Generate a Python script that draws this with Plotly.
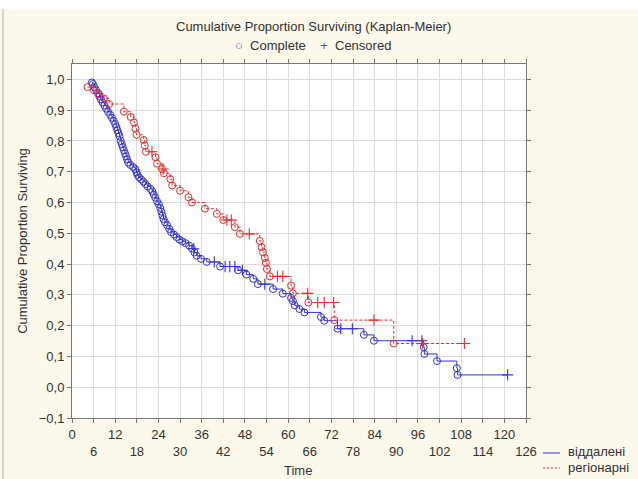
import plotly.graph_objects as go

# ---------------- data ----------------
# віддалені (blue): complete (event) times and survival values
blue_event_t = [5.5, 5.8, 6.2, 6.7, 7.2, 7.6, 8.0, 8.5, 9.0, 9.5, 10.0, 10.6, 11.1, 11.6,
                12.0, 12.3, 12.6, 12.9, 13.2, 13.5, 13.8, 14.1, 14.4, 14.7, 15.0, 15.3,
                15.6, 16.2, 17.0, 17.6, 17.9, 18.2, 18.6, 19.2, 19.8, 20.4, 21.0, 21.8,
                22.3, 22.7, 23.1, 23.6, 24.1, 24.5, 24.8, 25.1, 25.4, 25.8, 26.4, 27.0,
                27.5, 28.3, 29.0, 29.8, 30.6, 31.5, 32.5, 33.3, 34.0, 34.6, 35.8, 37.4,
                41.1, 46.1, 48.4, 50.3, 51.6, 55.8, 58.5, 60.8, 61.3, 61.8, 63.1, 64.5,
                69.1, 70.0, 73.7, 81.0, 83.8, 97.6, 97.8, 101.3, 106.8, 107.0]
blue_event_s = [0.990, 0.985, 0.975, 0.965, 0.955, 0.945, 0.935, 0.925, 0.915, 0.905, 0.895,
                0.885, 0.875, 0.865, 0.855, 0.845, 0.835, 0.825, 0.815, 0.800, 0.790, 0.780,
                0.770, 0.760, 0.750, 0.740, 0.730, 0.722, 0.715, 0.708, 0.698, 0.690, 0.682,
                0.675, 0.668, 0.660, 0.652, 0.644, 0.636, 0.626, 0.616, 0.604, 0.594, 0.582,
                0.570, 0.558, 0.546, 0.536, 0.526, 0.514, 0.504, 0.496, 0.488, 0.480, 0.474,
                0.468, 0.460, 0.450, 0.438, 0.427, 0.417, 0.407, 0.392, 0.380, 0.366, 0.352,
                0.335, 0.319, 0.304, 0.290, 0.280, 0.266, 0.254, 0.243, 0.228, 0.216, 0.190,
                0.170, 0.151, 0.130, 0.108, 0.085, 0.062, 0.040]
blue_cens_t = [33.8, 39.5, 42.5, 43.8, 45.2, 47.3, 53.5, 74.6, 77.8, 94.4, 97.1, 120.9]

# регіонарні (red)
red_event_t = [4.3, 6.1, 7.5, 8.9, 10.3, 14.4, 16.3, 17.2, 17.6, 17.9, 19.9, 20.2, 20.5,
               23.2, 23.6, 25.0, 25.5, 27.3, 27.8, 30.0, 32.3, 33.3, 36.9, 40.2, 42.0,
               45.2, 46.6, 52.1, 52.6, 53.0, 53.5, 53.8, 54.1, 54.9, 60.8, 61.3, 65.6,
               72.8, 89.3]
red_event_s = [0.975, 0.965, 0.952, 0.938, 0.920, 0.895, 0.878, 0.860, 0.840, 0.820, 0.803,
               0.785, 0.765, 0.747, 0.726, 0.709, 0.695, 0.676, 0.655, 0.638, 0.617, 0.600,
               0.580, 0.563, 0.543, 0.520, 0.498, 0.475, 0.455, 0.438, 0.420, 0.404, 0.384,
               0.360, 0.330, 0.305, 0.275, 0.218, 0.142]
red_cens_t = [22.2, 25.3, 43.0, 44.2, 49.2, 57.0, 58.5, 65.4, 68.2, 70.0, 72.6, 83.8, 97.3, 108.9]

x_ticks = list(range(0, 127, 6))
y_ticks = [round(-0.1 + 0.1 * i, 1) for i in range(12)]

series_names = ["віддалені", "регіонарні"]
title_text = "Cumulative Proportion Surviving (Kaplan-Meier)"
x_title = "Time"
y_title = "Cumulative Proportion Surviving"

BLUE = "#3434d6"
RED = "#ee2a2a"
FONT = "Arial, Liberation Sans, sans-serif"
TXT = "#333333"


def km_series(ev_t, ev_s, cen_t):
    """Return step-line points and censored y-values from the KM data."""
    def s_at(t):
        val = 1.0
        for et, es in zip(ev_t, ev_s):
            if et <= t:
                val = es
        return val
    cen_s = [s_at(t) for t in cen_t]
    pts = sorted([(t, s) for t, s in zip(ev_t, ev_s)] + list(zip(cen_t, cen_s)))
    return [p[0] for p in pts], [p[1] for p in pts], cen_s


fig = go.Figure()

for ev_t, ev_s, cen_t, color, dash, name in [
    (blue_event_t, blue_event_s, blue_cens_t, BLUE, "solid", series_names[0]),
    (red_event_t, red_event_s, red_cens_t, RED, "3px,2px", series_names[1]),
]:
    lx, ly, cs = km_series(ev_t, ev_s, cen_t)
    fig.add_trace(go.Scatter(x=lx, y=ly, mode="lines", line=dict(color=color, width=1, dash=dash, shape="hv"),
                             name=name, showlegend=False, hoverinfo="skip"))
    fig.add_trace(go.Scatter(x=ev_t, y=ev_s, mode="markers",
                             marker=dict(symbol="circle-open", size=7, color=color, line=dict(width=1, color=color)),
                             showlegend=False))
    fig.add_trace(go.Scatter(x=cen_t, y=cs, mode="markers",
                             marker=dict(symbol="cross-thin-open", size=8, color=color, line=dict(width=1.1, color=color)),
                             showlegend=False))

ticktext = [str(v) if i % 2 == 0 else "<br>" + str(v) for i, v in enumerate(x_ticks)]

axis_common = dict(showline=True, linecolor="#777777", linewidth=1, mirror="allticks",
                   ticks="outside", ticklen=4, tickcolor="#777777", automargin=False,
                   showgrid=True, gridcolor="#dcdcdc", gridwidth=1, zeroline=False,
                   tickfont=dict(family=FONT, size=13, color=TXT))

fig.update_xaxes(range=[0, 126], tickmode="array", tickvals=x_ticks, ticktext=ticktext, tickangle=0,
                 **axis_common)
fig.update_yaxes(range=[-0.1, 1.05], tickmode="array", tickvals=y_ticks, tickformat=".1f",
                 title=dict(text=y_title, font=dict(family=FONT, size=13, color=TXT), standoff=8),
                 **axis_common)

PL, PR, PT, PB = 72, 112, 64, 61
W, H = 638, 479
pw, ph = W - PL - PR, H - PT - PB


def px2x(px):
    return (px - PL) / pw


def py2y(py):
    return (H - PB - py) / ph


annotations = [
    dict(text=title_text, x=px2x(313), y=py2y(26), xref="paper", yref="paper",
         showarrow=False, font=dict(family=FONT, size=13, color=TXT), xanchor="center", yanchor="middle"),
    dict(text='<span style="color:#5050c8">○</span>  Complete    <span style="color:#5050c8">+</span>  Censored',
         x=px2x(313), y=py2y(45), xref="paper", yref="paper",
         showarrow=False, font=dict(family=FONT, size=13, color=TXT), xanchor="center", yanchor="middle"),
    dict(text=x_title, x=px2x(298), y=py2y(470), xref="paper", yref="paper",
         showarrow=False, font=dict(family=FONT, size=13, color=TXT), xanchor="center", yanchor="middle"),
    dict(text=series_names[0], x=px2x(566), y=py2y(452), xref="paper", yref="paper", showarrow=False,
         xanchor="left", yanchor="middle", font=dict(family=FONT, size=13, color=TXT)),
    dict(text=series_names[1], x=px2x(566), y=py2y(467), xref="paper", yref="paper", showarrow=False,
         xanchor="left", yanchor="middle", font=dict(family=FONT, size=13, color=TXT)),
]

shapes = [
    dict(type="line", xref="paper", yref="paper", x0=px2x(543), x1=px2x(560), y0=py2y(453), y1=py2y(453),
         line=dict(color=BLUE, width=1)),
    dict(type="line", xref="paper", yref="paper", x0=px2x(543), x1=px2x(560), y0=py2y(468), y1=py2y(468),
         line=dict(color=RED, width=1, dash="2px,2px")),
    dict(type="rect", xref="paper", yref="paper", x0=px2x(0), x1=px2x(W), y0=py2y(0), y1=py2y(9),
         fillcolor="white", line=dict(width=0), layer="below"),
    dict(type="line", xref="paper", yref="paper", x0=px2x(3), x1=px2x(3), y0=py2y(9), y1=py2y(H),
         line=dict(color="#b0b0b0", width=1)),
]

fig.update_layout(
    width=W, height=H,
    margin=dict(l=PL, r=PR, t=PT, b=PB, pad=0, autoexpand=False),
    paper_bgcolor="#fdf8ec",
    plot_bgcolor="white",
    separators=", ",
    font=dict(family=FONT, size=13, color=TXT),
    annotations=annotations,
    shapes=shapes,
    showlegend=False,
)

fig.write_html("out.html")
